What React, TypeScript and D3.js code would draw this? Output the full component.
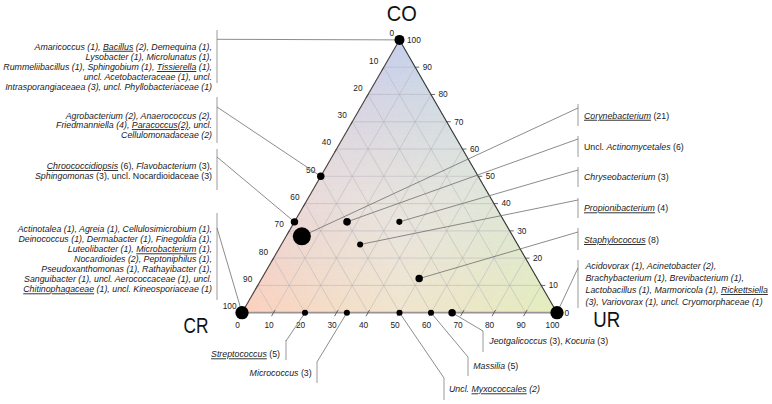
import React from 'react';
import * as d3 from 'd3';

// ---------- DATA ----------
const axisTicks = [0, 10, 20, 30, 40, 50, 60, 70, 80, 90, 100];
const cornerNames = ['CO', 'CR', 'UR'];

// composition (%) of each plotted point
const pointCO = [100, 50, 33.3, 0, 28, 33.3, 33.3, 25, 12.5, 0, 0, 0, 0, 0, 0];
const pointCR = [0, 50, 66.7, 100, 67, 50, 33.3, 50, 37.5, 0, 80, 66.7, 50, 40, 33.3];
const pointUR = [0, 0, 0, 0, 5, 16.7, 33.3, 25, 50, 100, 20, 33.3, 50, 60, 66.7];
const pointWeight = [6.5, 3.6, 3.6, 11.5, 21, 3.8, 2.4, 2.4, 3.6, 11.5, 2.4, 2.4, 2.4, 2.4, 3.6];

// label text for each point (markup: _x_ underlined italic, *x* italic)
const labelLines: string[][] = [
  [
    'Amaricoccus (1), _Bacillus_ (2), Demequina (1),',
    'Lysobacter (1), Microlunatus (1),',
    'Rummeliibacillus (1), Sphingobium (1), _Tissierella_ (1),',
    'uncl. Acetobacteraceae (1), uncl.',
    'Intrasporangiaceaea (3), uncl. Phyllobacteriaceae (1)',
  ],
  [
    'Agrobacterium (2), Anaerococcus (2),',
    'Friedmanniella (4), _Paracoccus(2)_, uncl.',
    'Cellulomonadaceae (2)',
  ],
  [
    '_Chroococcidiopsis_ (6), *Flavobacterium* (3),',
    '*Sphingomonas* (3), uncl. Nocardioidaceae (3)',
  ],
  [
    'Actinotalea (1), Agreia (1), Cellulosimicrobium (1),',
    'Deinococcus (1), Dermabacter (1), Finegoldia (1),',
    'Luteolibacter (1), _Microbacterium_ (1),',
    'Nocardioides (2), Peptoniphilus (1),',
    'Pseudoxanthomonas (1), Rathayibacter (1),',
    'Sanguibacter (1), uncl. Aerococcaceae (1), uncl.',
    '_Chitinophagaceae_ (1), uncl. Kineosporiaceae (1)',
  ],
  ['_Corynebacterium_ (21)'],
  ['Uncl. *Actinomycetales* (6)'],
  ['*Chryseobacterium* (3)'],
  ['_Propionibacterium_ (4)'],
  ['_Staphylococcus_ (8)'],
  [
    'Acidovorax (1), Acinetobacter (2),',
    'Brachybacterium (1), Brevibacterium (1),',
    'Lactobacillus (1), Marmoricola (1), _Rickettsiella_',
    '(3), Variovorax (1), uncl. Cryomorphaceae (1)',
  ],
  ['_Streptococcus_ (5)'],
  ['*Micrococcus* (3)'],
  ['Uncl. _Myxococcales_ (2)'],
  ['*Massilia* (5)'],
  ['*Jeotgalicoccus* (3), *Kocuria* (3)'],
];
const labelAllItalic = [true, true, false, true, false, false, false, false, false, true, false, false, true, false, false];

// ---------- LAYOUT ----------
const WIDTH = 772;
const HEIGHT = 404;
const SIDE = 315;
const LEFT = 242;
const BASE = 312.7;
const TRI_H = (SIDE * Math.sqrt(3)) / 2;

// annotation layout: text anchor x, first line y, line step, anchor, bar x, bar y1,y2, leader start y
type Lay = { tx: number; ty: number; step: number; anchor: 'start' | 'end'; bx: number; by1: number; by2: number; ly: number };
const layout: Lay[] = [
  { tx: 212, ty: 46.7, step: 10.15, anchor: 'end', bx: 217, by1: 30, by2: 83, ly: 39.3 },
  { tx: 212, ty: 115.7, step: 9.4, anchor: 'end', bx: 217, by1: 97, by2: 143, ly: 107 },
  { tx: 212, ty: 166, step: 10, anchor: 'end', bx: 217, by1: 149, by2: 190, ly: 157 },
  { tx: 212, ty: 229.3, step: 10, anchor: 'end', bx: 217, by1: 213, by2: 300, ly: 228 },
  { tx: 584, ty: 115.7, step: 10, anchor: 'start', bx: 578, by1: 104, by2: 126, ly: 108 },
  { tx: 584, ty: 147.3, step: 10, anchor: 'start', bx: 578, by1: 136, by2: 157, ly: 139 },
  { tx: 584, ty: 177.3, step: 10, anchor: 'start', bx: 578, by1: 167, by2: 187, ly: 170 },
  { tx: 584, ty: 208.3, step: 10, anchor: 'start', bx: 578, by1: 198, by2: 218, ly: 200 },
  { tx: 584, ty: 240, step: 10, anchor: 'start', bx: 578, by1: 228, by2: 250, ly: 232 },
  { tx: 585.5, ty: 266, step: 12, anchor: 'start', bx: 578, by1: 260, by2: 308, ly: 268 },
  { tx: 280, ty: 354.3, step: 10, anchor: 'end', bx: 286, by1: 340, by2: 360, ly: 341 },
  { tx: 311.7, ty: 372.7, step: 10, anchor: 'end', bx: 317, by1: 362, by2: 383, ly: 362 },
  { tx: 449, ty: 389.3, step: 10, anchor: 'start', bx: 444, by1: 378, by2: 400, ly: 378 },
  { tx: 473.3, ty: 366, step: 10, anchor: 'start', bx: 468, by1: 357, by2: 376, ly: 357 },
  { tx: 489.3, ty: 340.7, step: 10, anchor: 'start', bx: 483, by1: 331, by2: 352, ly: 331 },
];

// corner label layout: x, baseline y, rendered width
const cornerLayout = [
  { x: 401.7, y: 20.7, w: 30 },
  { x: 196, y: 333.3, w: 25 },
  { x: 606.7, y: 327.3, w: 27 },
];

const sx = d3.scaleLinear().domain([0, 100]).range([0, SIDE]);
const sy = d3.scaleLinear().domain([0, 100]).range([0, TRI_H]);
const rScale = d3.scaleSqrt().domain([0, 21]).range([0, 9]);

const proj = (co: number, ur: number): [number, number] => [LEFT + sx(ur) + sx(co) / 2, BASE - sy(co)];

const cCO = d3.rgb('#c4cfed');
const cCR = d3.rgb('#fdd0bc');
const cUR = d3.rgb('#e4eebb');
const cMid = d3.rgb('#f1f0ee');

function blend(co: number, cr: number, ur: number) {
  const r = co * cCO.r + cr * cCR.r + ur * cUR.r;
  const g = co * cCO.g + cr * cCR.g + ur * cUR.g;
  const b = co * cCO.b + cr * cCR.b + ur * cUR.b;
  const w = (1 - Math.max(co, cr, ur)) * 0.7;
  return d3.rgb(r * (1 - w) + cMid.r * w, g * (1 - w) + cMid.g * w, b * (1 - w) + cMid.b * w).formatHex();
}

function parseLine(s: string, allItalic: boolean) {
  const parts = s.split(/(_[^_]+_|\*[^*]+\*)/).filter((p) => p.length > 0);
  return parts.map((p) => {
    if (p.startsWith('_')) return { t: p.slice(1, -1), i: true, u: true };
    if (p.startsWith('*')) return { t: p.slice(1, -1), i: true, u: false };
    return { t: p, i: allItalic, u: false };
  });
}

const TEXT_FONT = "'Liberation Sans', Arial, sans-serif";

export default function App() {
  const N = 40;
  const cells: { pts: string; fill: string }[] = [];
  for (let a = 0; a < N; a++) {
    for (let b = 0; b < N - a; b++) {
      const tris = [
        [
          [a, b],
          [a, b + 1],
          [a + 1, b],
        ],
      ];
      if (b < N - a - 1) {
        tris.push([
          [a, b + 1],
          [a + 1, b + 1],
          [a + 1, b],
        ]);
      }
      tris.forEach((t) => {
        const cco = (t[0][0] + t[1][0] + t[2][0]) / 3 / N;
        const cur = (t[0][1] + t[1][1] + t[2][1]) / 3 / N;
        const pts = t.map(([p, q]) => proj((p / N) * 100, (q / N) * 100).join(',')).join(' ');
        cells.push({ pts, fill: blend(cco, 1 - cco - cur, cur) });
      });
    }
  }

  const top = proj(100, 0);
  const bl = proj(0, 0);
  const br = proj(0, 100);

  const inner = axisTicks.filter((k) => k > 0 && k < 100);
  const gridLines: [number, number, number, number][] = [];
  inner.forEach((k) => {
    const a1 = proj(k, 0), a2 = proj(k, 100 - k);
    gridLines.push([a1[0], a1[1], a2[0], a2[1]]);
    const b1 = proj(0, k), b2 = proj(100 - k, k);
    gridLines.push([b1[0], b1[1], b2[0], b2[1]]);
    const c1 = proj(100 - k, 0), c2 = proj(0, 100 - k);
    gridLines.push([c1[0], c1[1], c2[0], c2[1]]);
  });

  const tickColor = '#444';
  const tickFont = 8.3;

  return (
    <svg width={WIDTH} height={HEIGHT} style={{ position: 'absolute', left: 0, top: 0, background: '#fff' }}>
      <rect width={WIDTH} height={HEIGHT} fill="#fff" />
      <g>
        {cells.map((c, i) => (
          <polygon key={i} points={c.pts} fill={c.fill} stroke={c.fill} strokeWidth={0.6} />
        ))}
      </g>
      <g stroke="#a9a9b4" strokeOpacity={0.55} strokeWidth={0.8}>
        {gridLines.map((l, i) => (
          <line key={i} x1={l[0]} y1={l[1]} x2={l[2]} y2={l[3]} />
        ))}
      </g>
      {/* edges */}
      <line x1={bl[0]} y1={bl[1]} x2={br[0]} y2={br[1]} stroke="#9a9298" strokeWidth={1.8} />
      <line x1={top[0]} y1={top[1]} x2={bl[0]} y2={bl[1]} stroke="#4a3f3a" strokeWidth={1.1} />
      <line x1={top[0]} y1={top[1]} x2={br[0]} y2={br[1]} stroke="#333" strokeWidth={1.1} />

      {/* left axis: CR */}
      {axisTicks.map((k) => {
        const [x, y] = proj(100 - k, 0);
        return (
          <g key={'l' + k}>
            <line x1={x} y1={y} x2={x - 2} y2={y + 3.5} stroke={tickColor} strokeWidth={0.8} />
            <text x={x - 5.5} y={y - 6.5} dy="0.35em" textAnchor="end" fontSize={tickFont} fontFamily={TEXT_FONT} fill="#222">
              {k}
            </text>
          </g>
        );
      })}
      {/* right axis: CO */}
      {axisTicks.map((k) => {
        const [x, y] = proj(k, 100 - k);
        return (
          <g key={'r' + k}>
            <line x1={x} y1={y} x2={x + 4} y2={y} stroke={tickColor} strokeWidth={0.8} />
            <text x={x + 7.5} y={y} dy="0.35em" textAnchor="start" fontSize={tickFont} fontFamily={TEXT_FONT} fill="#222">
              {k}
            </text>
          </g>
        );
      })}
      {/* bottom axis: UR */}
      {axisTicks.map((k) => {
        const [x, y] = proj(0, k);
        return (
          <g key={'b' + k}>
            <line x1={x + 1.5} y1={y - 2.6} x2={x - 2} y2={y + 3.5} stroke={tickColor} strokeWidth={0.8} />
            <text x={x - 4.5} y={y + 12} dy="0.35em" textAnchor="middle" fontSize={tickFont} fontFamily={TEXT_FONT} fill="#222">
              {k}
            </text>
          </g>
        );
      })}

      {/* leader lines and bars */}
      {layout.map((L, i) => {
        const [px, py] = proj(pointCO[i], pointUR[i]);
        return (
          <g key={'ld' + i}>
            <line x1={L.bx} y1={L.by1} x2={L.bx} y2={L.by2} stroke="#9a9a9a" strokeWidth={1} />
            <line x1={L.bx} y1={L.ly} x2={px} y2={py} stroke="#6e6e6e" strokeWidth={0.8} />
          </g>
        );
      })}

      {/* points */}
      {pointCO.map((co, i) => {
        const [px, py] = proj(co, pointUR[i]);
        return <circle key={'p' + i} cx={px} cy={py} r={rScale(pointWeight[i])} fill="#000" />;
      })}

      {/* labels */}
      {labelLines.map((lines, gi) => {
        const L = layout[gi];
        return lines.map((ln, li) => (
          <text
            key={gi + '-' + li}
            x={L.tx}
            y={L.ty + li * L.step}
            dy="0.35em"
            textAnchor={L.anchor}
            fontSize={8.8}
            fontFamily={TEXT_FONT}
            fill="#1a1a1a"
          >
            {parseLine(ln, labelAllItalic[gi]).map((s, si) => (
              <tspan
                key={si}
                fontStyle={s.i ? 'italic' : 'normal'}
                style={s.u ? { textDecoration: 'underline' } : undefined}
              >
                {s.t}
              </tspan>
            ))}
          </text>
        ));
      })}

      {/* corner names */}
      {cornerNames.map((name, i) => {
        const c = cornerLayout[i];
        return (
          <text
            key={name}
            x={c.x - c.w / 2}
            y={c.y}
            textLength={c.w}
            lengthAdjust="spacingAndGlyphs"
            fontSize={22}
            fontFamily={TEXT_FONT}
            fill="#111"
          >
            {name}
          </text>
        );
      })}
    </svg>
  );
}
